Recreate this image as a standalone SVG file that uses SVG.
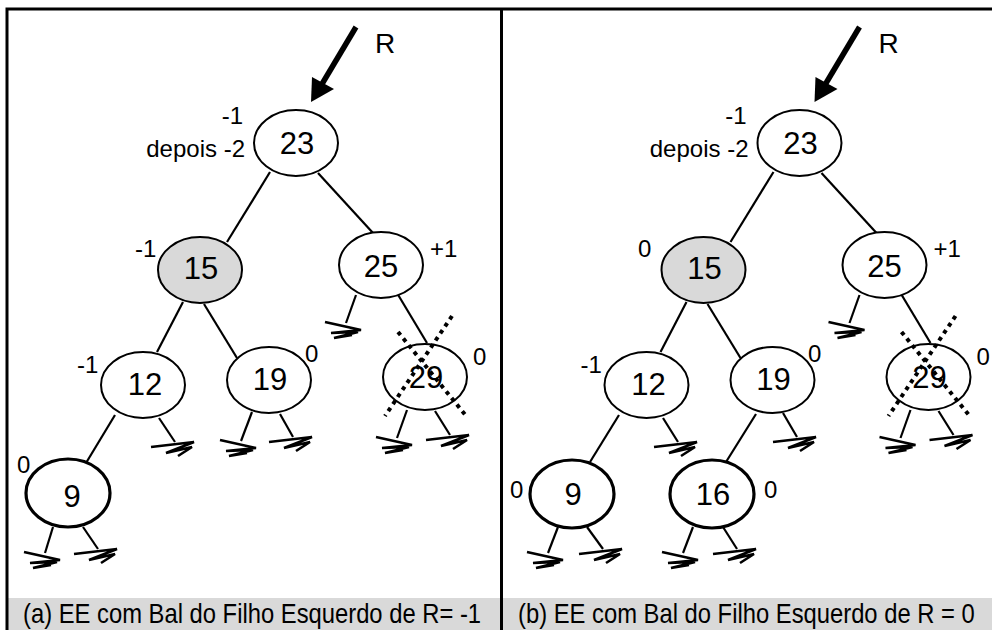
<svg xmlns="http://www.w3.org/2000/svg" xmlns:xlink="http://www.w3.org/1999/xlink" width="992" height="630" viewBox="0 0 992 630">
<style>
.nd{fill:#fff;stroke:#000;stroke-width:2}
.nd.g{fill:#d9d9d9}
.nd.t{stroke-width:3.2}
.num{font-family:"Liberation Sans",Arial,sans-serif;font-size:31px;text-anchor:middle;fill:#000}
.lb{font-family:"Liberation Sans",Arial,sans-serif;font-size:24px;fill:#000}
.cap{font-family:"Liberation Sans",Arial,sans-serif;font-size:28px;fill:#000}
.e{stroke:#000;stroke-width:2.2;fill:none}
.gnd{stroke:#000;stroke-width:2.6;fill:none;stroke-linejoin:miter}
.x{stroke:#000;stroke-width:4;stroke-dasharray:4 4.5;fill:none}
.arr{stroke:#000;stroke-width:5.5;fill:none}
</style>
<defs>
<path id="gl" class="gnd" d="M-21,-1 L15,7 L-15,10 L12,9 L-12,15 L6,12"/>
<path id="gr" class="gnd" d="M-24,5 L19,0 L-9,11 L17,5 L3,14"/>
</defs>
<rect width="992" height="630" fill="#fff"/>
<rect x="7" y="598" width="985" height="32" fill="#d9d9d9"/>
<g id="frame" stroke="#000" stroke-width="3" fill="none">
<path d="M7,630 V9 H992"/>
<path d="M501.5,9 V630"/>
</g>
<g id="connectors">
<line class="e" x1="270" y1="172" x2="227" y2="242"/>
<line class="e" x1="318" y1="173" x2="373" y2="233"/>
<line class="e" x1="183" y1="302" x2="157" y2="352"/>
<line class="e" x1="204" y1="304" x2="237" y2="358"/>
<line class="e" x1="356" y1="295" x2="346" y2="323"/>
<line class="e" x1="397" y1="293" x2="427" y2="343"/>
<line class="e" x1="115" y1="415" x2="86" y2="463"/>
<line class="e" x1="159" y1="418" x2="175" y2="442"/>
<line class="e" x1="252" y1="412" x2="241" y2="441"/>
<line class="e" x1="280" y1="414" x2="293" y2="437"/>
<line class="e" x1="407" y1="410" x2="397" y2="438"/>
<line class="e" x1="435" y1="411" x2="450" y2="435"/>
<line class="e" x1="53" y1="527" x2="45" y2="553"/>
<line class="e" x1="83" y1="527" x2="98" y2="549"/>
<use xlink:href="#gl" x="346" y="323"/>
<use xlink:href="#gr" x="175" y="442"/>
<use xlink:href="#gl" x="241" y="441"/>
<use xlink:href="#gr" x="293" y="437"/>
<use xlink:href="#gl" x="397" y="438"/>
<use xlink:href="#gr" x="450" y="435"/>
<use xlink:href="#gl" x="45" y="553"/>
<use xlink:href="#gr" x="98" y="549"/>
<line class="arr" x1="356" y1="27" x2="322" y2="84"/>
<polygon points="311,102 312,77 334,89" fill="#000"/>

<line class="e" x1="773.5" y1="172" x2="730.5" y2="242"/>
<line class="e" x1="821.5" y1="173" x2="876.5" y2="233"/>
<line class="e" x1="686.5" y1="302" x2="660.5" y2="352"/>
<line class="e" x1="707.5" y1="304" x2="740.5" y2="358"/>
<line class="e" x1="859.5" y1="295" x2="849.5" y2="323"/>
<line class="e" x1="900.5" y1="293" x2="930.5" y2="343"/>
<line class="e" x1="619" y1="415" x2="590" y2="462"/>
<line class="e" x1="663" y1="418" x2="678" y2="442"/>
<line class="e" x1="756" y1="414" x2="726" y2="462"/>
<line class="e" x1="783" y1="413" x2="797" y2="437"/>
<line class="e" x1="910.5" y1="410" x2="900.5" y2="438"/>
<line class="e" x1="938.5" y1="411" x2="953.5" y2="435"/>
<line class="e" x1="558" y1="527" x2="548" y2="553"/>
<line class="e" x1="587" y1="527" x2="603" y2="549"/>
<line class="e" x1="693" y1="527" x2="683" y2="553"/>
<line class="e" x1="723" y1="527" x2="737" y2="549"/>
<use xlink:href="#gl" x="849.5" y="323"/>
<use xlink:href="#gr" x="678" y="442"/>
<use xlink:href="#gr" x="797" y="437"/>
<use xlink:href="#gl" x="900.5" y="438"/>
<use xlink:href="#gr" x="953.5" y="435"/>
<use xlink:href="#gl" x="548" y="553"/>
<use xlink:href="#gr" x="603" y="549"/>
<use xlink:href="#gl" x="683" y="553"/>
<use xlink:href="#gr" x="737" y="549"/>
<line class="arr" x1="859.5" y1="27" x2="825.5" y2="84"/>
<polygon points="814.5,102 815.5,77 837.5,89" fill="#000"/>
</g>

<g id="a-n23"><ellipse class="nd" cx="296" cy="143" rx="42" ry="33"/><text class="num" x="297" y="154">23</text></g>
<g id="a-n15"><ellipse class="nd g" cx="200" cy="270" rx="42" ry="33"/><text class="num" x="201" y="279">15</text></g>
<g id="a-n25"><ellipse class="nd" cx="381" cy="265" rx="42" ry="33"/><text class="num" x="381" y="277">25</text></g>
<g id="a-n12"><ellipse class="nd" cx="143" cy="385" rx="42" ry="33"/><text class="num" x="145" y="395">12</text></g>
<g id="a-n19"><ellipse class="nd" cx="269" cy="380" rx="42" ry="33"/><text class="num" x="270" y="390">19</text></g>
<g id="a-n29"><ellipse class="nd" cx="425" cy="377" rx="42" ry="33"/><text class="num" x="426" y="388">29</text></g>
<g id="a-n9"><ellipse class="nd t" cx="68" cy="493" rx="42" ry="34"/><text class="num" x="72" y="507">9</text></g>

<g id="b-n23"><ellipse class="nd" cx="799.5" cy="143" rx="42" ry="33"/><text class="num" x="800.5" y="154">23</text></g>
<g id="b-n15"><ellipse class="nd g" cx="703.5" cy="270" rx="42" ry="33"/><text class="num" x="704.5" y="279">15</text></g>
<g id="b-n25"><ellipse class="nd" cx="884.5" cy="265" rx="42" ry="33"/><text class="num" x="884.5" y="277">25</text></g>
<g id="b-n12"><ellipse class="nd" cx="646.5" cy="385" rx="42" ry="33"/><text class="num" x="648.5" y="395">12</text></g>
<g id="b-n19"><ellipse class="nd" cx="772.5" cy="380" rx="42" ry="33"/><text class="num" x="773.5" y="390">19</text></g>
<g id="b-n29"><ellipse class="nd" cx="928.5" cy="377" rx="42" ry="33"/><text class="num" x="929.5" y="388">29</text></g>
<g id="b-n9"><ellipse class="nd t" cx="572" cy="494" rx="42" ry="34"/><text class="num" x="573" y="505">9</text></g>
<g id="b-n16"><ellipse class="nd t" cx="712" cy="494" rx="42" ry="34"/><text class="num" x="713" y="505">16</text></g>

<g id="crosses">
<line class="x" x1="398" y1="332" x2="467" y2="417"/>
<line class="x" x1="452" y1="316" x2="385" y2="416"/>
<line class="x" x1="901.5" y1="332" x2="970.5" y2="417"/>
<line class="x" x1="955.5" y1="316" x2="888.5" y2="416"/>
</g>

<g id="labels">
<text class="cap" x="375" y="53">R</text>
<text class="lb" x="243" y="124" text-anchor="end">-1</text>
<text class="lb" x="245" y="157" text-anchor="end">depois -2</text>
<text class="lb" x="135" y="257">-1</text>
<text class="lb" x="430" y="257">+1</text>
<text class="lb" x="77" y="373">-1</text>
<text class="lb" x="305" y="362">0</text>
<text class="lb" x="473" y="365">0</text>
<text class="lb" x="17" y="473">0</text>

<text class="cap" x="878.5" y="53">R</text>
<text class="lb" x="746.5" y="124" text-anchor="end">-1</text>
<text class="lb" x="748.5" y="157" text-anchor="end">depois -2</text>
<text class="lb" x="638" y="257">0</text>
<text class="lb" x="933.5" y="257">+1</text>
<text class="lb" x="580.5" y="373">-1</text>
<text class="lb" x="808" y="362">0</text>
<text class="lb" x="976.5" y="365">0</text>
<text class="lb" x="510" y="498">0</text>
<text class="lb" x="764" y="498">0</text>

<text class="cap" transform="translate(23,623) scale(0.85,1)" font-size="27">(a) EE com Bal do Filho Esquerdo de R= -1</text>
<text class="cap" transform="translate(518,623) scale(0.85,1)" font-size="27">(b) EE com Bal do Filho Esquerdo de R = 0</text>
</g>
</svg>
